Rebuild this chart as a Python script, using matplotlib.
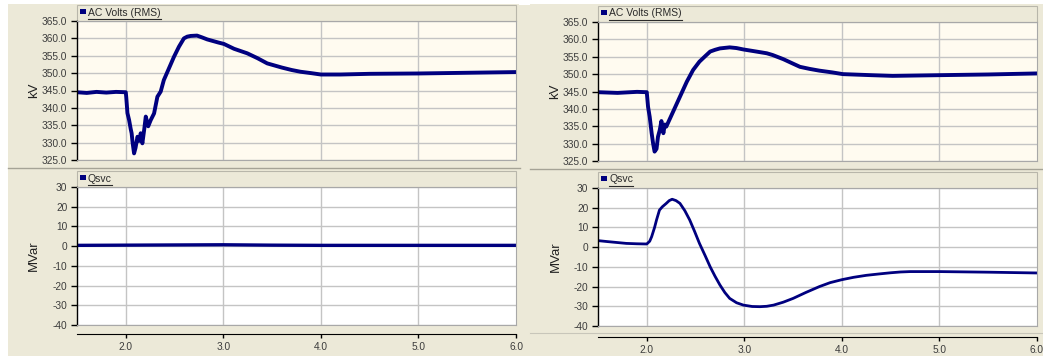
import matplotlib.pyplot as plt
from matplotlib.patches import Rectangle
from matplotlib.lines import Line2D

W, H = 1043, 356

# --- data ---
t_v_left = [1.5, 1.6, 1.7, 1.8, 1.9, 2.0, 2.005, 2.017, 2.034, 2.05, 2.06, 2.07, 2.085, 2.1,
            2.12, 2.14, 2.153, 2.17, 2.19, 2.205, 2.23, 2.256, 2.29, 2.324, 2.358, 2.39,
            2.443, 2.494, 2.545, 2.596, 2.63, 2.665, 2.73, 2.78, 2.835, 2.95, 3.006, 3.11,
            3.245, 3.35, 3.45, 3.6, 3.7, 3.79, 3.9, 4.0, 4.2, 4.5, 5.0, 5.5, 6.0]
v_left = [344.5, 344.3, 344.6, 344.4, 344.6, 344.5, 343.0, 338.5, 336.5, 334.0, 332.7, 330.0,
          326.9, 328.5, 331.7, 330.5, 332.7, 329.8, 334.0, 337.5, 334.7, 336.5, 338.4, 343.2,
          344.7, 348.0, 351.4, 354.7, 357.6, 360.0, 360.5, 360.7, 360.8, 360.3, 359.7, 358.8,
          358.4, 357.0, 355.7, 354.3, 352.8, 351.6, 350.9, 350.4, 350.0, 349.6, 349.6, 349.8,
          349.9, 350.1, 350.3]

t_v_right = [1.5, 1.7, 1.9, 2.0, 2.013, 2.03, 2.05, 2.065, 2.08, 2.1, 2.115, 2.133, 2.15, 2.17,
             2.185, 2.2, 2.27, 2.34, 2.41, 2.475, 2.54, 2.6, 2.65, 2.7, 2.75, 2.85, 2.92, 2.99,
             3.1, 3.23, 3.29, 3.4, 3.5, 3.57, 3.67, 3.77, 3.9, 4.01, 4.3, 4.52, 5.0, 5.5, 6.0]
v_right = [344.8, 344.6, 344.9, 344.8, 340.6, 337.7, 333.0, 330.0, 327.7, 328.5, 332.0, 333.9,
           336.5, 333.0, 335.5, 334.9, 339.2, 343.5, 347.8, 351.2, 353.6, 355.2, 356.5, 357.0,
           357.4, 357.7, 357.5, 357.1, 356.6, 356.0, 355.5, 354.3, 353.0, 352.1, 351.5, 351.0,
           350.5, 350.0, 349.7, 349.5, 349.7, 349.9, 350.2]

t_q_left = [1.5, 2.0, 2.5, 3.0, 3.5, 4.0, 5.0, 6.0]
q_left = [0.4, 0.5, 0.6, 0.7, 0.5, 0.4, 0.4, 0.4]

t_q_right = [1.5, 1.6, 1.79, 1.9, 2.0, 2.03, 2.05, 2.08, 2.1, 2.13, 2.16, 2.2, 2.23, 2.26, 2.3,
             2.34, 2.39, 2.44, 2.49, 2.54, 2.6, 2.65, 2.7, 2.75, 2.8, 2.85, 2.92, 2.99, 3.08,
             3.16, 3.23, 3.3, 3.4, 3.5, 3.63, 3.77, 3.88, 4.0, 4.12, 4.25, 4.38, 4.5, 4.6, 4.7,
             5.0, 5.5, 6.0]
q_right = [3.3, 2.8, 1.9, 1.7, 1.6, 3.0, 5.3, 10.0, 13.8, 18.8, 20.5, 22.2, 23.6, 24.3, 23.6,
           22.2, 18.5, 13.8, 8.0, 1.9, -4.5, -10.0, -14.8, -19.2, -23.0, -26.0, -28.2, -29.4,
           -30.1, -30.2, -30.0, -29.4, -27.9, -26.0, -23.0, -20.0, -18.0, -16.5, -15.3, -14.3,
           -13.6, -13.0, -12.6, -12.4, -12.4, -12.7, -13.1]

v_ticks = [325, 330, 335, 340, 345, 350, 355, 360, 365]
q_ticks = [-40, -30, -20, -10, 0, 10, 20, 30]
x_ticks = [2, 3, 4, 5, 6]

BG = '#ECE9D8'
NAVY = '#00007F'
GRID = '#C4C4C4'
TXT = '#3C3C3C'
FONT = 'Liberation Sans'

fig = plt.figure(figsize=(W / 100, H / 100), dpi=100)
fig.patch.set_facecolor(BG)


def fr(x0, y0, x1, y1):
    # pixel box -> figure fraction rect
    return [x0 / W, 1 - y1 / H, (x1 - x0) / W, (y1 - y0) / H]


def prect(x0, y0, x1, y1, fc, ec='none', lw=0):
    r = Rectangle((x0 / W, 1 - y1 / H), (x1 - x0) / W, (y1 - y0) / H, transform=fig.transFigure,
                  facecolor=fc, edgecolor=ec, linewidth=lw, zorder=0)
    fig.add_artist(r)


def hline(x0, x1, y, c, lw=0.8):
    fig.add_artist(Line2D([x0 / W, x1 / W], [1 - y / H, 1 - y / H], transform=fig.transFigure,
                          color=c, linewidth=lw))


headers = []


def plot_panel(x0, x1, y0, y1, t, y, ylim, yticks, fmt, face, title, ylabel, lw, label_x):
    prect(x0, y0 - 16, x1, y0, BG, '#B8B6AA', 0.8)
    ax = fig.add_axes(fr(x0, y0, x1, y1))
    ax.set_facecolor(face)
    ax.plot(t, y, color=NAVY, linewidth=lw, solid_joinstyle='round')
    ax.set_xlim(1.5, 6.0)
    ax.set_ylim(*ylim)
    ax.set_yticks(yticks)
    ax.set_yticklabels([fmt % v for v in yticks], fontsize=7.3, color=TXT, family=FONT)
    ax.set_xticks([2, 3, 4, 5])
    ax.tick_params(axis='x', length=0, labelbottom=False)
    ax.tick_params(axis='y', direction='out', length=4, width=1, color='black', pad=3)
    ax.grid(True, color=GRID, linewidth=1.0)
    ax.set_axisbelow(True)
    for s in ['top', 'right', 'bottom']:
        ax.spines[s].set_color('#A8A8A8')
    ax.spines['left'].set_color('black')
    ax.spines['left'].set_linewidth(1.0)
    ax.set_ylabel(ylabel, fontsize=9.5, color='#222222', family=FONT)
    ax.yaxis.set_label_coords((label_x - x0) / (x1 - x0), 0.5)
    # legend header
    prect(x0 + 3, y0 - 12, x0 + 9, y0 - 7, NAVY)
    tx = fig.text((x0 + 11) / W, 1 - (y0 - 8.5) / H, title, fontsize=7.5, color='#2A2A2A',
                  family=FONT, va='center', ha='left')
    headers.append(tx)
    return ax


def x_strip(x0, x1, y):
    ax = fig.add_axes(fr(x0, y - 1, x1, y))
    ax.set_facecolor('none')
    ax.set_xlim(1.5, 6.0)
    ax.set_yticks([])
    ax.set_xticks(x_ticks)
    ax.set_xticklabels(['%.1f' % v for v in x_ticks], fontsize=7.3, color=TXT, family=FONT)
    ax.tick_params(axis='x', direction='out', length=3, width=1, pad=3)
    for s in ['top', 'right', 'left']:
        ax.spines[s].set_visible(False)
    ax.spines['bottom'].set_color('black')


# white border strip at very top / left
prect(0, 0, W, 4, 'white')
prect(0, 0, 8, H, 'white')
prect(519, 0, 530, 5, 'white')

# left panel
plot_panel(77, 516, 21, 160, t_v_left, v_left, (325, 365), v_ticks, '%.1f', '#FFFBF0',
           'AC Volts (RMS)', 'kV', 2.8, 40)
hline(8, 520, 168, '#A5A396', 1.0)
plot_panel(77, 516, 187, 325, t_q_left, q_left, (-40, 30), q_ticks, '%d', 'white',
           'Qsvc', 'MVar', 2.4, 40)
x_strip(77, 516, 334)

# right panel
plot_panel(598, 1037, 22, 161, t_v_right, v_right, (325, 365), v_ticks, '%.1f', '#FFFBF0',
           'AC Volts (RMS)', 'kV', 2.8, 561)
hline(530, W, 169, '#A5A396', 1.0)
plot_panel(598, 1037, 188, 326, t_q_right, q_right, (-40, 30), q_ticks, '%d', 'white',
           'Qsvc', 'MVar', 2.0, 562)
x_strip(598, 1037, 337)
hline(530, W, 333, '#C8C6BA', 0.8)

# underline the header texts
fig.canvas.draw()
r = fig.canvas.get_renderer()
for tx in headers:
    bb = tx.get_window_extent(r)
    fig.add_artist(Line2D([bb.x0 / W, bb.x1 / W], [(bb.y0 - 1) / H, (bb.y0 - 1) / H],
                          transform=fig.transFigure, color='#2A2A2A', linewidth=0.8))

plt.savefig('out.png', dpi=100, facecolor=fig.get_facecolor())
